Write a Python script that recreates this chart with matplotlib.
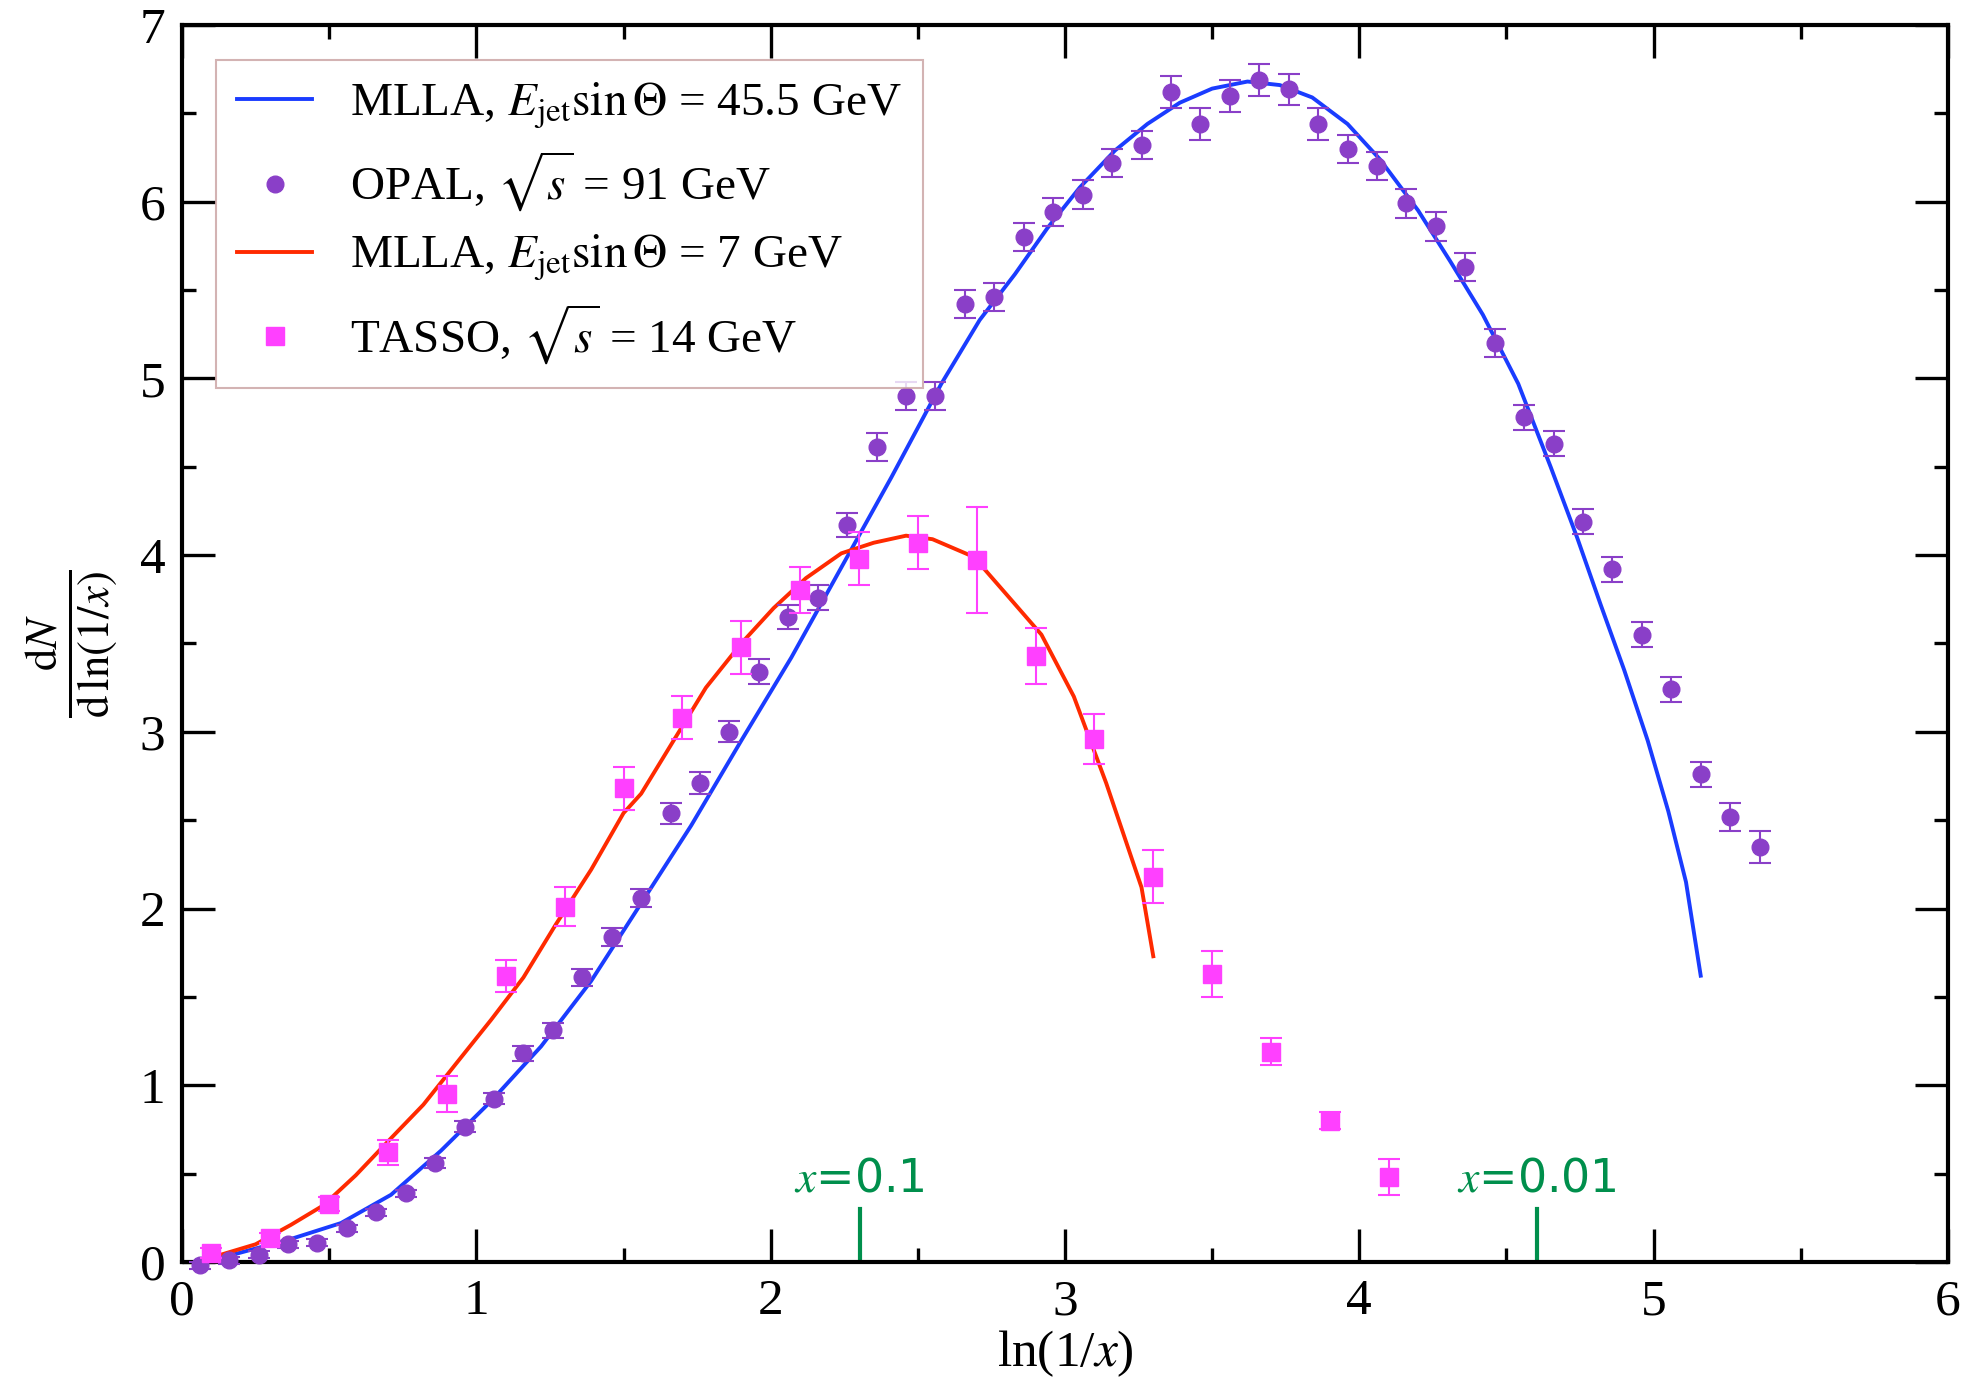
import matplotlib

matplotlib.use("Agg")
import matplotlib.pyplot as plt
from matplotlib.lines import Line2D
from matplotlib.ticker import MultipleLocator

plt.rcParams["font.family"] = ["Liberation Serif", "DejaVu Serif"]
plt.rcParams["mathtext.fontset"] = "stix"

# OPAL, sqrt(s) = 91 GeV
opal_x = [0.06, 0.16, 0.26, 0.36, 0.46, 0.56, 0.66, 0.76, 0.86, 0.96,
          1.06, 1.16, 1.26, 1.36, 1.46, 1.56, 1.66, 1.76, 1.86, 1.96,
          2.06, 2.16, 2.26, 2.36, 2.46, 2.56, 2.66, 2.76, 2.86, 2.96,
          3.06, 3.16, 3.26, 3.36, 3.46, 3.56, 3.66, 3.76, 3.86, 3.96,
          4.06, 4.16, 4.26, 4.36, 4.46, 4.56, 4.66, 4.76, 4.86, 4.96,
          5.06, 5.16, 5.26, 5.36]
opal_y = [-0.02, 0.01, 0.04, 0.10, 0.11, 0.19, 0.28, 0.39, 0.56, 0.765,
          0.925, 1.18, 1.31, 1.61, 1.84, 2.06, 2.54, 2.71, 3.00, 3.34,
          3.65, 3.76, 4.17, 4.61, 4.90, 4.90, 5.42, 5.46, 5.80, 5.94,
          6.04, 6.22, 6.32, 6.62, 6.44, 6.60, 6.69, 6.635, 6.44, 6.30,
          6.20, 5.99, 5.86, 5.63, 5.20, 4.78, 4.63, 4.19, 3.92, 3.55,
          3.24, 2.76, 2.52, 2.35]
opal_err = [0.02, 0.02, 0.02, 0.02, 0.02, 0.02, 0.02, 0.02, 0.03, 0.03,
            0.03, 0.04, 0.04, 0.05, 0.05, 0.05, 0.06, 0.06, 0.06, 0.07,
            0.07, 0.07, 0.07, 0.08, 0.08, 0.08, 0.08, 0.08, 0.08, 0.08,
            0.08, 0.08, 0.08, 0.09, 0.09, 0.09, 0.09, 0.09, 0.09, 0.08,
            0.08, 0.08, 0.08, 0.08, 0.08, 0.07, 0.07, 0.07, 0.07, 0.07,
            0.07, 0.07, 0.08, 0.09]

# TASSO, sqrt(s) = 14 GeV
tasso_x = [0.1, 0.3, 0.5, 0.7, 0.9, 1.1, 1.3, 1.5, 1.7, 1.9, 2.1,
           2.3, 2.5, 2.7, 2.9, 3.1, 3.3, 3.5, 3.7, 3.9, 4.1]
tasso_y = [0.05, 0.135, 0.33, 0.62, 0.95, 1.62, 2.01, 2.68, 3.08, 3.48, 3.80,
           3.98, 4.07, 3.97, 3.43, 2.96, 2.18, 1.63, 1.19, 0.80, 0.48]
tasso_err = [0.03, 0.03, 0.04, 0.07, 0.10, 0.09, 0.11, 0.12, 0.12, 0.15, 0.13,
             0.15, 0.15, 0.30, 0.16, 0.14, 0.15, 0.13, 0.075, 0.05, 0.10]

# MLLA, E_jet sin(Theta) = 45.5 GeV
mlla45_x = [0.06, 0.17, 0.37, 0.54, 0.71, 0.88, 1.05, 1.22, 1.39, 1.56,
            1.73, 1.90, 2.07, 2.24, 2.41, 2.58, 2.71, 2.83, 2.94, 3.05,
            3.17, 3.28, 3.39, 3.50, 3.62, 3.73, 3.84, 3.96, 4.07, 4.20,
            4.31, 4.42, 4.54, 4.65, 4.74, 4.82, 4.90, 4.98, 5.05, 5.11, 5.16]
mlla45_y = [0.0, 0.04, 0.13, 0.22, 0.38, 0.63, 0.91, 1.22, 1.59, 2.03,
            2.47, 2.95, 3.42, 3.93, 4.44, 4.97, 5.33, 5.59, 5.85, 6.08,
            6.29, 6.44, 6.56, 6.64, 6.68, 6.66, 6.59, 6.44, 6.24, 5.95,
            5.66, 5.36, 4.97, 4.50, 4.10, 3.72, 3.35, 2.95, 2.55, 2.15, 1.62]

# MLLA, E_jet sin(Theta) = 7 GeV
mlla7_x = [0.13, 0.25, 0.37, 0.48, 0.59, 0.71, 0.82, 0.93, 1.05, 1.16,
           1.27, 1.39, 1.50, 1.56, 1.67, 1.78, 1.90, 2.01, 2.12, 2.24,
           2.35, 2.46, 2.55, 2.69, 2.80, 2.92, 3.03, 3.14, 3.26, 3.30]
mlla7_y = [0.04, 0.10, 0.21, 0.32, 0.49, 0.70, 0.89, 1.12, 1.37, 1.61,
           1.91, 2.22, 2.54, 2.65, 2.95, 3.25, 3.50, 3.70, 3.87, 4.01,
           4.07, 4.11, 4.09, 3.99, 3.78, 3.55, 3.20, 2.71, 2.12, 1.73]

# x = 0.1 and x = 0.01 markers on the ln(1/x) axis
marks_x = [2.303, 4.605]
marks_text = ["$x$=0.1", "$x$=0.01"]

BLUE = "#1a3cff"
RED = "#ff2a00"
PURPLE = "#8a3fc8"
MAGENTA = "#ff40ff"
GREEN = "#008f4c"

fig = plt.figure(figsize=(19.7, 13.81), dpi=100)
ax = fig.add_axes([0.0924, 0.0862, 0.8964, 0.8957])

ax.plot(mlla45_x, mlla45_y, color=BLUE, lw=2.8, zorder=3)
ax.plot(mlla7_x, mlla7_y, color=RED, lw=2.8, zorder=3)

ax.errorbar(opal_x, opal_y, yerr=opal_err, fmt="o", color=PURPLE, ms=12,
            elinewidth=1.5, capsize=8, capthick=1.5, zorder=4, clip_on=False)
ax.errorbar(tasso_x, tasso_y, yerr=tasso_err, fmt="s", color=MAGENTA, ms=13,
            elinewidth=1.5, capsize=8, capthick=1.5, zorder=5, clip_on=False)

for xm, label in zip(marks_x, marks_text):
    ax.plot([xm, xm], [0, 0.3], color=GREEN, lw=3, zorder=2)
    ax.text(xm, 0.4, label, color=GREEN, fontsize=33, ha="center", va="baseline",
            family=["DejaVu Sans"])

ax.set_xlim(0, 6)
ax.set_ylim(0, 7)
ax.xaxis.set_major_locator(MultipleLocator(1))
ax.xaxis.set_minor_locator(MultipleLocator(0.5))
ax.yaxis.set_major_locator(MultipleLocator(1))
ax.yaxis.set_minor_locator(MultipleLocator(0.5))
ax.tick_params(which="both", direction="in", top=True, right=True,
               labelsize=37, width=2.4, pad=12)
ax.tick_params(which="major", length=24)
ax.tick_params(which="minor", length=10)
for spine in ax.spines.values():
    spine.set_linewidth(3)

ax.set_xlabel("ln(1/$x$)", fontsize=37, labelpad=2)
ax.set_ylabel(r"$\frac{\mathrm{d}N}{\mathrm{d}\,\mathrm{ln}(1/x)}$", fontsize=46, labelpad=14)

handles = [
    Line2D([], [], color=BLUE, lw=2.8),
    Line2D([], [], color=PURPLE, marker="o", ls="none", ms=12),
    Line2D([], [], color=RED, lw=2.8),
    Line2D([], [], color=MAGENTA, marker="s", ls="none", ms=13),
]
labels = [
    r"MLLA, $E_{\mathrm{jet}}\sin\Theta$ = 45.5 GeV",
    r"OPAL, $\sqrt{s}$ = 91 GeV",
    r"MLLA, $E_{\mathrm{jet}}\sin\Theta$ = 7 GeV",
    r"TASSO, $\sqrt{s}$ = 14 GeV",
]
leg = ax.legend(handles, labels, loc="upper left", bbox_to_anchor=(0.019, 0.972),
                fontsize=34, frameon=True, fancybox=False, borderaxespad=0,
                handlelength=1.6, handletextpad=0.8, labelspacing=0.4,
                borderpad=0.45)
leg.get_frame().set_edgecolor("#c8a0a0")
leg.get_frame().set_linewidth(1.5)

fig.savefig("out.png", dpi=100)
